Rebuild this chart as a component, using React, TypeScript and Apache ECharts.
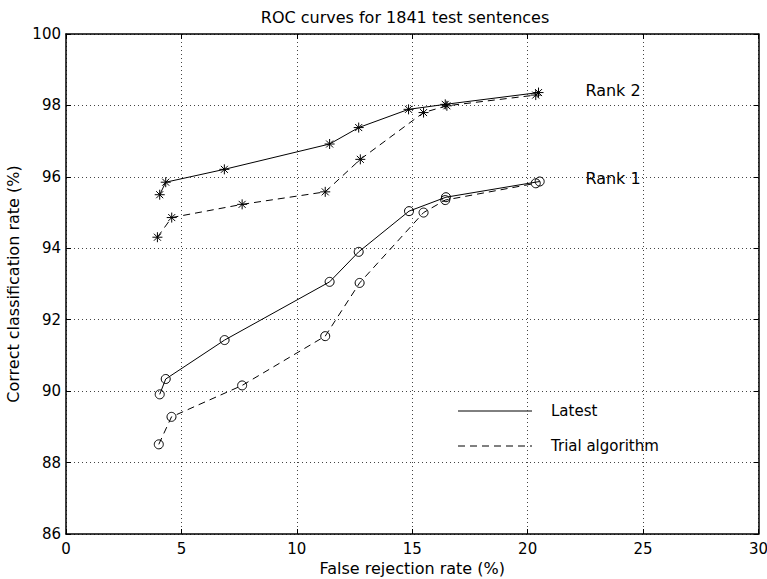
import React, { useEffect, useRef } from "react";
import * as echarts from "echarts";

const FONT = "DejaVu Sans";

const titleText = "ROC curves for 1841 test sentences";
const xAxisName = "False rejection rate (%)";
const yAxisName = "Correct classification rate (%)";

// Rank 2 curves (asterisk markers)
const rank2LatestX = [4.06, 4.32, 6.86, 11.42, 12.68, 14.84, 16.43, 20.47];
const rank2LatestY = [95.5, 95.85, 96.21, 96.92, 97.38, 97.89, 98.03, 98.36];
const rank2TrialX = [3.96, 4.58, 7.63, 11.23, 12.75, 15.49, 16.5, 20.35];
const rank2TrialY = [94.31, 94.86, 95.23, 95.58, 96.49, 97.8, 97.99, 98.29];

// Rank 1 curves (circle markers)
const rank1LatestX = [4.06, 4.32, 6.87, 11.42, 12.68, 14.86, 16.46, 20.52];
const rank1LatestY = [89.91, 90.34, 91.43, 93.06, 93.9, 95.04, 95.43, 95.87];
const rank1TrialX = [4.02, 4.57, 7.63, 11.23, 12.72, 15.49, 16.43, 20.35];
const rank1TrialY = [88.51, 89.28, 90.16, 91.54, 93.03, 95.0, 95.35, 95.82];

// Annotations
const rankLabels = ["Rank 2", "Rank 1"];
const rankLabelX = [22.5, 22.5];
const rankLabelY = [98.43, 95.96];

const legendNames = ["Latest", "Trial algorithm"];

const STAR = "path://M5,0L5,10M0,5L10,5M1.5,1.5L8.5,8.5M1.5,8.5L8.5,1.5";

function zip(xs: number[], ys: number[]) {
  return xs.map((x, i) => [x, ys[i]]);
}

function makeSeries(name: string, xs: number[], ys: number[], dashed: boolean, star: boolean) {
  return {
    type: "line",
    name,
    data: zip(xs, ys),
    symbol: star ? STAR : "circle",
    symbolSize: star ? 10 : 9,
    showSymbol: true,
    lineStyle: { color: "#000", width: 1, type: dashed ? [7, 5] : "solid" },
    itemStyle: star
      ? { color: "#000", borderColor: "#000", borderWidth: 1 }
      : { color: "rgba(255,255,255,0)", borderColor: "#000", borderWidth: 1 },
    emphasis: { disabled: true },
    z: 3,
  };
}

export default function App() {
  const ref = useRef<HTMLDivElement>(null);
  useEffect(() => {
    document.body.style.margin = "0";
    const chart = echarts.init(ref.current!, null, { renderer: "svg" });
    const axisText = { color: "#000", fontFamily: FONT, fontSize: 15 };
    const nameText = { color: "#000", fontFamily: FONT, fontSize: 16 };
    const gridLine = { show: true, lineStyle: { color: "#444", width: 1, type: [1, 3] } };
    const axisLine = { show: true, onZero: false, lineStyle: { color: "#000", width: 1.5 } };
    const tick = { show: true, inside: true, length: 5, lineStyle: { color: "#000", width: 1 } };
    chart.setOption({
      animation: false,
      backgroundColor: "#fff",
      title: {
        text: titleText,
        left: 400,
        textAlign: "center",
        top: 4,
        textStyle: { ...nameText, fontWeight: "normal" },
      },
      grid: { left: 66, right: 8.5, top: 34, bottom: 45, containLabel: false, outerBoundsMode: "none" },
      xAxis: [
        {
          type: "value",
          min: 0,
          max: 30,
          interval: 5,
          position: "bottom",
          axisLine,
          axisTick: tick,
          axisLabel: { ...axisText, margin: 7 },
          splitLine: gridLine,
          name: xAxisName,
          nameLocation: "middle",
          nameGap: 21,
          nameTextStyle: nameText,
        },
        {
          type: "value",
          min: 0,
          max: 30,
          interval: 5,
          position: "top",
          axisLine,
          axisTick: tick,
          axisLabel: { show: false },
          splitLine: { show: false },
        },
      ],
      yAxis: [
        {
          type: "value",
          min: 86,
          max: 100,
          interval: 2,
          position: "left",
          axisLine,
          axisTick: tick,
          axisLabel: { ...axisText, margin: 5 },
          splitLine: gridLine,
          name: yAxisName,
          nameLocation: "middle",
          nameGap: 40,
          nameTextStyle: nameText,
        },
        {
          type: "value",
          min: 86,
          max: 100,
          interval: 2,
          position: "right",
          axisLine,
          axisTick: tick,
          axisLabel: { show: false },
          splitLine: { show: false },
        },
      ],
      series: [
        makeSeries(legendNames[0], rank2LatestX, rank2LatestY, false, true),
        makeSeries(legendNames[1], rank2TrialX, rank2TrialY, true, true),
        makeSeries(legendNames[0], rank1LatestX, rank1LatestY, false, false),
        makeSeries(legendNames[1], rank1TrialX, rank1TrialY, true, false),
        {
          type: "scatter",
          name: "labels",
          symbolSize: 0,
          data: rankLabels.map((t, i) => ({ value: [rankLabelX[i], rankLabelY[i]], name: t })),
          label: {
            show: true,
            position: [0, 0],
            align: "left",
            verticalAlign: "middle",
            formatter: (p: any) => p.name,
            color: "#000",
            fontFamily: FONT,
            fontSize: 16,
            textBorderWidth: 0,
            opacity: 1,
          },
          itemStyle: { color: "#000", opacity: 1 },
          emphasis: { disabled: true },
          silent: true,
        },
      ],
      graphic: [
        { type: "line", shape: { x1: 458, y1: 411, x2: 532, y2: 411 }, style: { stroke: "#000", lineWidth: 1 } },
        { type: "line", shape: { x1: 458, y1: 446, x2: 532, y2: 446 }, style: { stroke: "#000", lineWidth: 1, lineDash: [7, 5] } },
        { type: "text", x: 551, y: 411, style: { text: legendNames[0], fill: "#000", font: `15px '${FONT}'`, verticalAlign: "middle" } },
        { type: "text", x: 551, y: 446, style: { text: legendNames[1], fill: "#000", font: `15px '${FONT}'`, verticalAlign: "middle" } },
      ],
    });
    return () => chart.dispose();
  }, []);
  return <div ref={ref} style={{ width: 767, height: 579, background: "#fff" }} />;
}
